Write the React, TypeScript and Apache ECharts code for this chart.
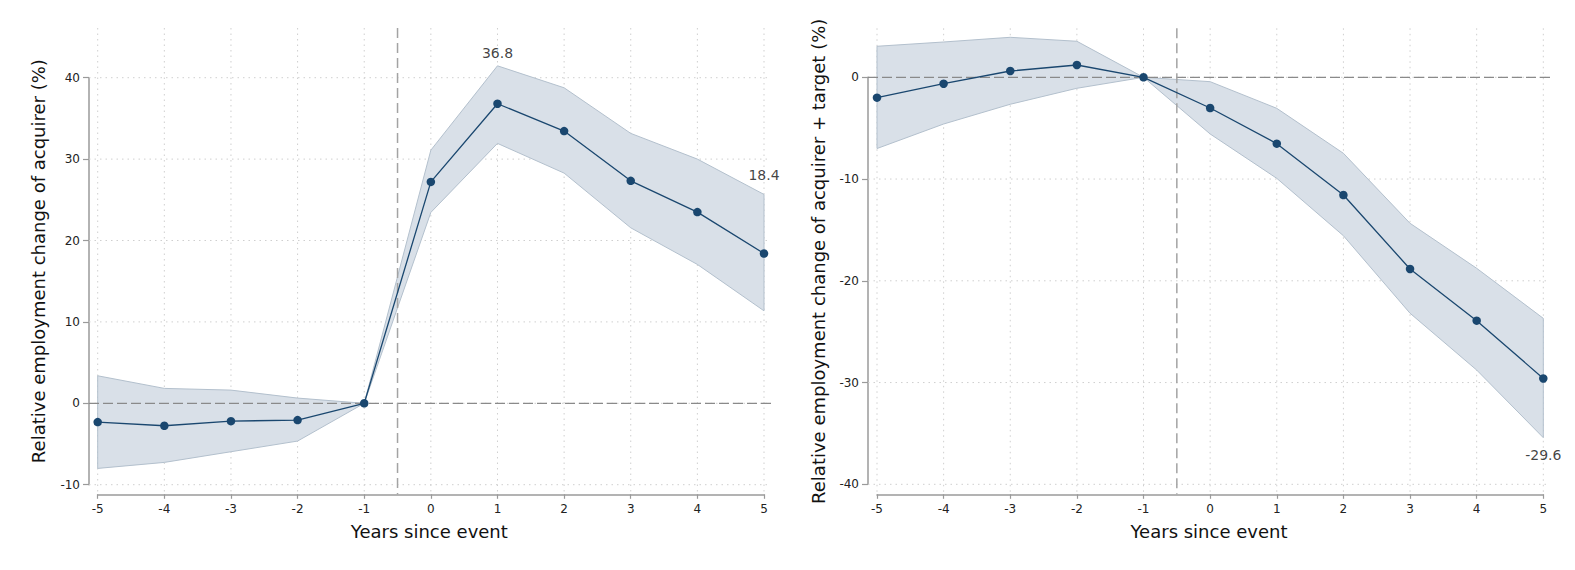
import React, { useEffect, useRef } from "react";
import * as echarts from "echarts";

// ---------- data ----------
const years = [-5, -4, -3, -2, -1, 0, 1, 2, 3, 4, 5];

const acqMean = [-2.31, -2.76, -2.19, -2.06, 0, 27.2, 36.8, 33.44, 27.33, 23.49, 18.4];
const acqUpper = [3.38, 1.83, 1.62, 0.64, 0, 31.1, 41.46, 38.76, 33.16, 30.0, 25.66];
const acqLower = [-8.0, -7.26, -5.95, -4.64, 0, 23.45, 31.93, 28.28, 21.56, 17.06, 11.36];

const combMean = [-2.0, -0.63, 0.62, 1.21, 0, -3.02, -6.52, -11.57, -18.84, -23.92, -29.6];
const combUpper = [3.05, 3.47, 3.93, 3.54, 0, -0.43, -3.05, -7.47, -14.35, -18.77, -23.69];
const combLower = [-7.0, -4.59, -2.65, -1.08, 0, -5.57, -9.93, -15.57, -23.19, -28.77, -35.42];

const acqYTicks = [-10, 0, 10, 20, 30, 40];
const combYTicks = [-40, -30, -20, -10, 0];

const xTitle = "Years since event";
const acqYTitle = "Relative employment change of acquirer (%)";
const combYTitle = "Relative employment change of acquirer + target (%)";

const eventLine = -0.5;

// ---------- style ----------
const FONT = "DejaVu Sans";
const NAVY = "#1a476f";
const BAND_FILL = "#d9e0e8";
const BAND_EDGE = "#b3c0cd";
const AXIS_COLOR = "#9a9a9a";
const GRID_COLOR = "#cfcfcf";

type Box = { left: number; top: number; width: number; height: number };
type Pad = { left: number; right: number; top: number; bottom: number };
type Panel = {
  box: Box;
  pad: Pad;
  yTicks: number[];
  mean: number[];
  upper: number[];
  lower: number[];
  yTitle: string;
  notes: { idx: number; y: number }[];
  xGap: number;
  yGap: number;
};

const panels: Panel[] = [
  {
    box: { left: 97.7, top: 77.7, width: 666.3, height: 407 },
    pad: { left: 8.7, right: 5.7, top: 49.7, bottom: 9.6 },
    yTicks: acqYTicks,
    mean: acqMean,
    upper: acqUpper,
    lower: acqLower,
    yTitle: acqYTitle,
    notes: [
      { idx: 6, y: 43.0 },
      { idx: 10, y: 28.0 },
    ],
    xGap: 28,
    yGap: 42,
  },
  {
    box: { left: 877, top: 77.3, width: 666.3, height: 407 },
    pad: { left: 9, right: 6.7, top: 49, bottom: 10 },
    yTicks: combYTicks,
    mean: combMean,
    upper: combUpper,
    lower: combLower,
    yTitle: combYTitle,
    notes: [{ idx: 10, y: -37.1 }],
    xGap: 28,
    yGap: 41,
  },
];

function buildOption() {
  const grid: any[] = [];
  const xAxis: any[] = [];
  const yAxis: any[] = [];
  const series: any[] = [];

  panels.forEach((p, pi) => {
    const bi = pi * 2; // axes grid
    const ai = pi * 2 + 1; // plot region grid
    const xMin = years[0];
    const xMax = years[years.length - 1];
    const yMin = p.yTicks[0];
    const yMax = p.yTicks[p.yTicks.length - 1];
    const ux = (xMax - xMin) / p.box.width;
    const uy = (yMax - yMin) / p.box.height;

    grid.push({ left: p.box.left, top: p.box.top, width: p.box.width, height: p.box.height, containLabel: false });
    grid.push({
      left: p.box.left - p.pad.left,
      top: p.box.top - p.pad.top,
      width: p.box.width + p.pad.left + p.pad.right,
      height: p.box.height + p.pad.top + p.pad.bottom,
      containLabel: false,
    });

    const axisLine = { show: true, onZero: false, lineStyle: { color: AXIS_COLOR, width: 1.5 } };
    xAxis.push({
      gridIndex: bi,
      type: "value",
      position: "bottom",
      min: xMin,
      max: xMax,
      interval: 1,
      offset: p.pad.bottom,
      axisLine,
      axisTick: { show: true, length: 4.5, lineStyle: { color: AXIS_COLOR, width: 1.2 } },
      axisLabel: { fontSize: 12, color: "#222", margin: 9, fontFamily: FONT },
      splitLine: { show: false },
    });
    yAxis.push({
      gridIndex: bi,
      type: "value",
      position: "left",
      min: yMin,
      max: yMax,
      interval: 10,
      offset: p.pad.left,
      axisLine,
      axisTick: { show: true, length: 6, lineStyle: { color: AXIS_COLOR, width: 1.2 } },
      axisLabel: { fontSize: 12, color: "#222", margin: 9, fontFamily: FONT },
      splitLine: { show: false },
    });
    xAxis.push({
      gridIndex: ai,
      type: "value",
      position: "bottom",
      min: xMin - p.pad.left * ux,
      max: xMax + p.pad.right * ux,
      axisLine: { show: false, onZero: false },
      axisTick: { show: false },
      axisLabel: { show: false },
      splitLine: { show: false },
      name: xTitle,
      nameLocation: "middle",
      nameGap: p.xGap,
      nameTextStyle: { fontSize: 18, color: "#111", fontFamily: FONT },
    });
    yAxis.push({
      gridIndex: ai,
      type: "value",
      position: "left",
      min: yMin - p.pad.bottom * uy,
      max: yMax + p.pad.top * uy,
      axisLine: { show: false, onZero: false },
      axisTick: { show: false },
      axisLabel: { show: false },
      splitLine: { show: false },
      name: p.yTitle,
      nameLocation: "middle",
      nameGap: p.yGap,
      nameTextStyle: { fontSize: 18, color: "#111", fontFamily: FONT },
    });

    // grid lines (dotted)
    series.push({
      type: "custom",
      xAxisIndex: ai,
      yAxisIndex: ai,
      data: [[0, 0]],
      silent: true,
      z: 1,
      renderItem: (params: any, api: any) => {
        const cs = params.coordSys;
        const children: any[] = [];
        years.forEach((x) => {
          const px = api.coord([x, 0])[0];
          children.push({
            type: "line",
            shape: { x1: px, y1: cs.y, x2: px, y2: cs.y + cs.height },
            style: { stroke: GRID_COLOR, lineWidth: 1, lineDash: [1.5, 4] },
          });
        });
        p.yTicks.forEach((y) => {
          const py = api.coord([0, y])[1];
          children.push({
            type: "line",
            shape: { x1: cs.x, y1: py, x2: cs.x + cs.width, y2: py },
            style: { stroke: GRID_COLOR, lineWidth: 1, lineDash: [1.5, 4] },
          });
        });
        return { type: "group", children };
      },
    });

    // confidence band
    series.push({
      type: "custom",
      xAxisIndex: bi,
      yAxisIndex: bi,
      data: [[0, 0]],
      silent: true,
      clip: false,
      z: 2,
      renderItem: (params: any, api: any) => {
        const top = years.map((x, i) => api.coord([x, p.upper[i]]));
        const bot = years.map((x, i) => api.coord([x, p.lower[i]])).reverse();
        return {
          type: "polygon",
          shape: { points: top.concat(bot) },
          style: { fill: BAND_FILL, stroke: BAND_EDGE, lineWidth: 1 },
        };
      },
    });

    // reference lines (dashed)
    series.push({
      type: "custom",
      xAxisIndex: ai,
      yAxisIndex: ai,
      data: [[0, 0]],
      silent: true,
      z: 3,
      renderItem: (params: any, api: any) => {
        const cs = params.coordSys;
        const py = api.coord([0, 0])[1];
        const px = api.coord([eventLine, 0])[0];
        return {
          type: "group",
          children: [
            {
              type: "line",
              shape: { x1: cs.x, y1: py, x2: cs.x + cs.width + 4, y2: py },
              style: { stroke: "#8a8a8a", lineWidth: 1.3, lineDash: [10, 4] },
            },
            {
              type: "line",
              shape: { x1: px, y1: cs.y, x2: px, y2: cs.y + cs.height },
              style: { stroke: "#a3a3a3", lineWidth: 1.5, lineDash: [10, 5] },
            },
          ],
        };
      },
    });

    // estimates
    series.push({
      type: "line",
      xAxisIndex: bi,
      yAxisIndex: bi,
      data: years.map((x, i) => [x, p.mean[i]]),
      symbol: "circle",
      symbolSize: 8.5,
      showSymbol: true,
      clip: false,
      z: 4,
      lineStyle: { color: NAVY, width: 1.3 },
      itemStyle: { color: NAVY },
      silent: true,
    });

    // value notes
    series.push({
      type: "scatter",
      xAxisIndex: bi,
      yAxisIndex: bi,
      data: p.notes.map((n) => ({ value: [years[n.idx], n.y], text: p.mean[n.idx].toFixed(1) })),
      symbolSize: 1,
      clip: false,
      z: 5,
      silent: true,
      itemStyle: { color: "transparent" },
      label: {
        show: true,
        position: "inside",
        formatter: (d: any) => d.data.text,
        fontSize: 14,
        color: "#111",
        fontFamily: FONT,
      },
    });
  });

  return {
    animation: false,
    backgroundColor: "#ffffff",
    textStyle: { fontFamily: FONT },
    grid,
    xAxis,
    yAxis,
    series,
  };
}

export default function App() {
  const ref = useRef<HTMLDivElement>(null);
  useEffect(() => {
    if (!ref.current) return;
    const chart = echarts.init(ref.current, undefined, { renderer: "svg" });
    chart.setOption(buildOption() as any);
    return () => chart.dispose();
  }, []);
  return (
    <div
      ref={ref}
      style={{ position: "absolute", left: 0, top: 0, width: 1575, height: 570, background: "#fff" }}
    />
  );
}
